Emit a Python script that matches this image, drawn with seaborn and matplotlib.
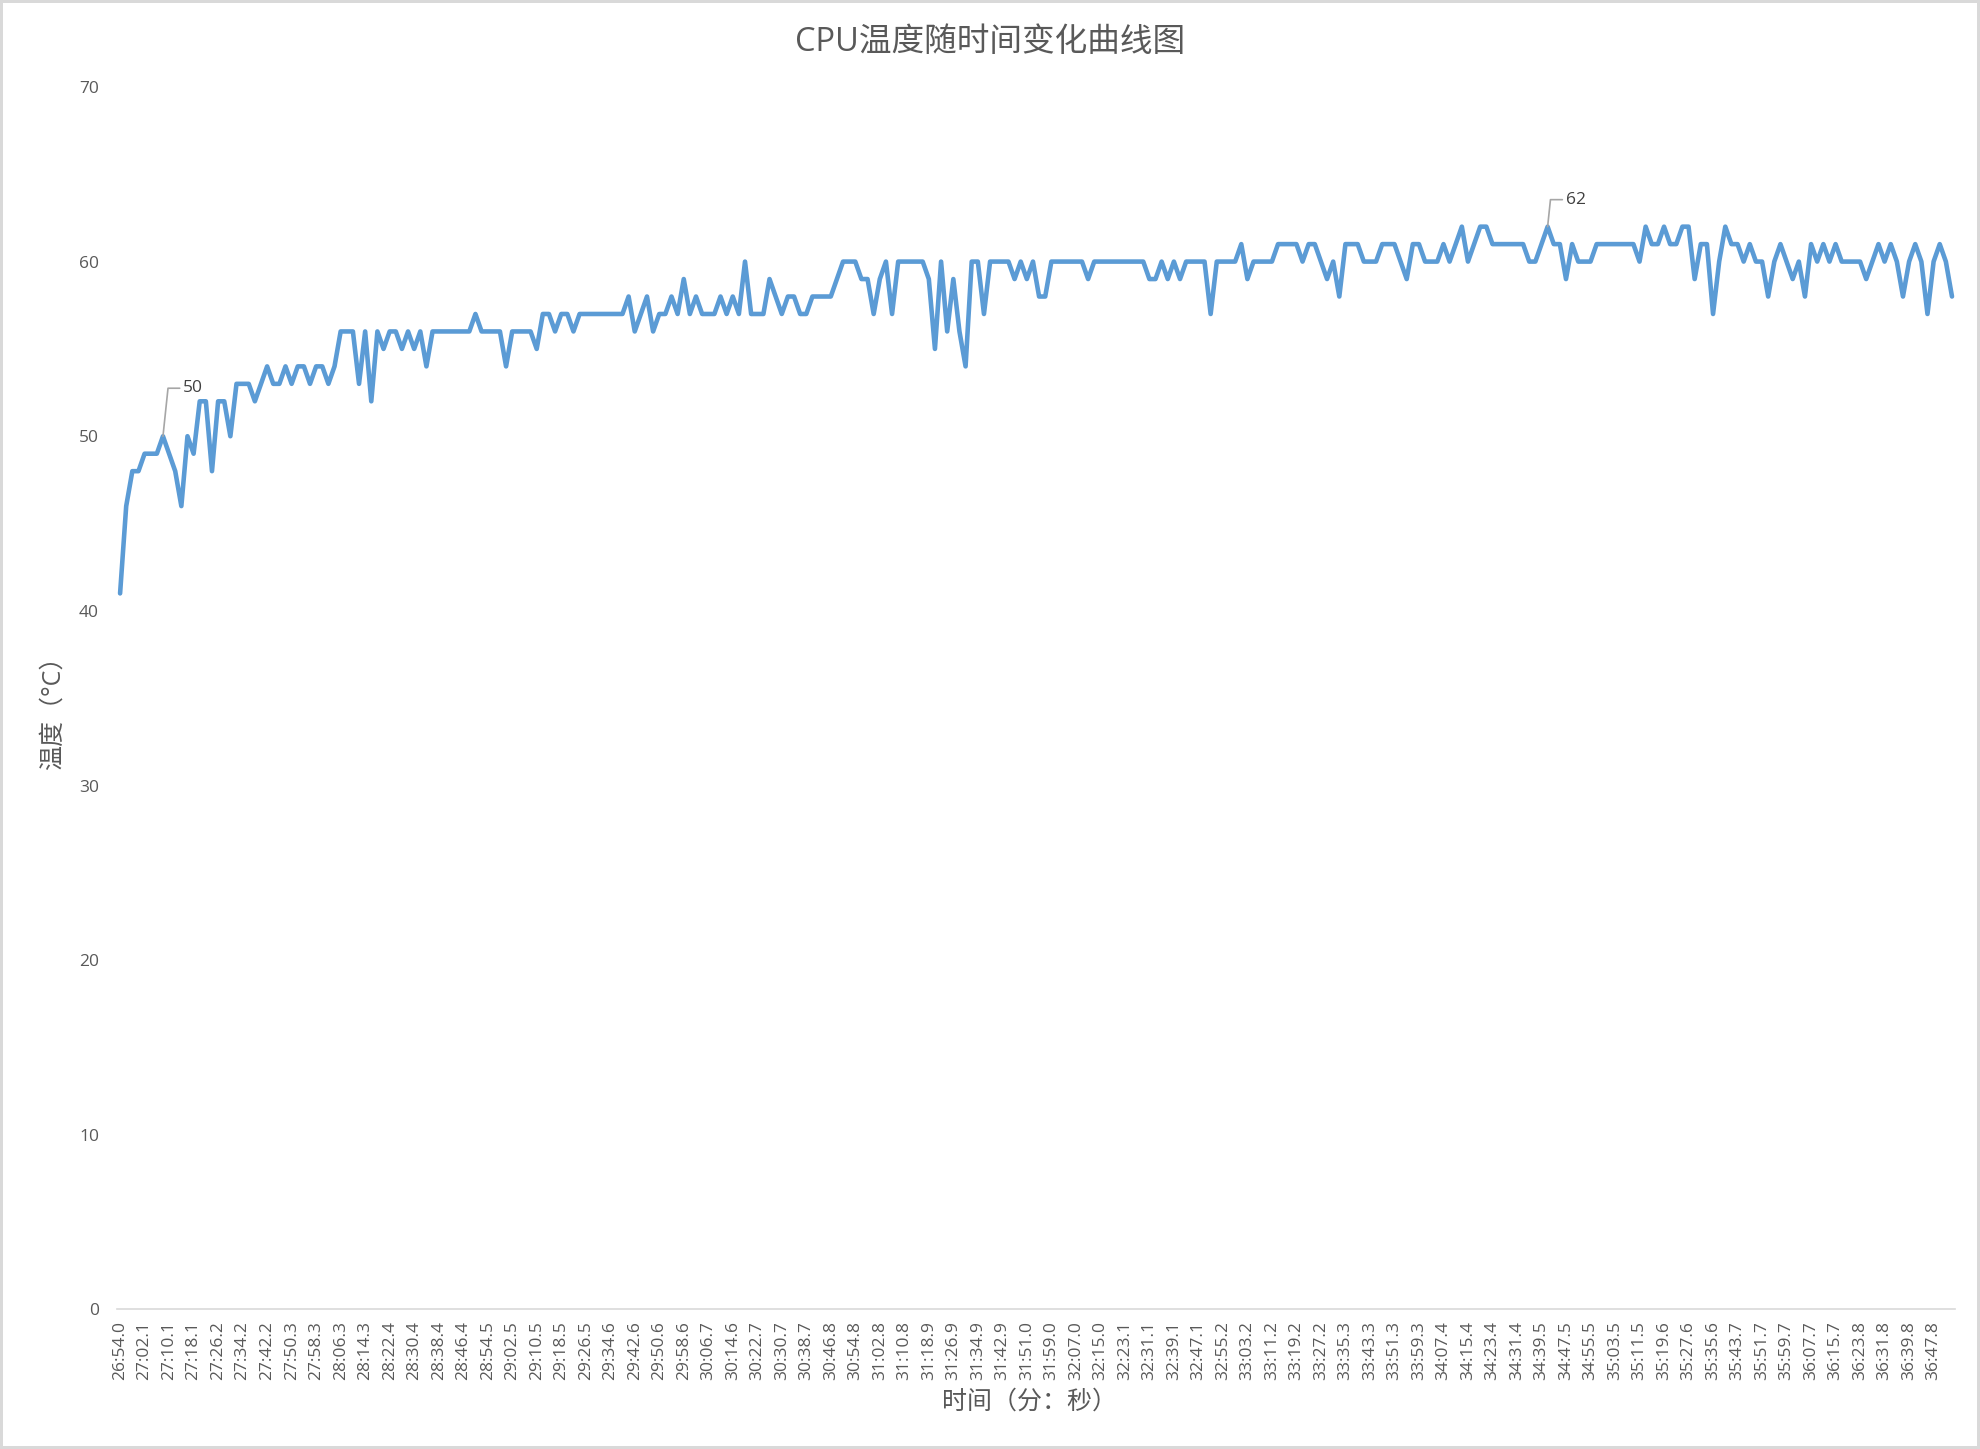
import numpy as np
import pandas as pd
import matplotlib
matplotlib.use("Agg")
import matplotlib.pyplot as plt
import seaborn as sns

# CPU temperature readings, one every ~2 s
temps = [
    41, 46, 48, 48, 49, 49, 49, 50, 49, 48,
    46, 50, 49, 52, 52, 48, 52, 52, 50, 53,
    53, 53, 52, 53, 54, 53, 53, 54, 53, 54,
    54, 53, 54, 54, 53, 54, 56, 56, 56, 53,
    56, 52, 56, 55, 56, 56, 55, 56, 55, 56,
    54, 56, 56, 56, 56, 56, 56, 56, 57, 56,
    56, 56, 56, 54, 56, 56, 56, 56, 55, 57,
    57, 56, 57, 57, 56, 57, 57, 57, 57, 57,
    57, 57, 57, 58, 56, 57, 58, 56, 57, 57,
    58, 57, 59, 57, 58, 57, 57, 57, 58, 57,
    58, 57, 60, 57, 57, 57, 59, 58, 57, 58,
    58, 57, 57, 58, 58, 58, 58, 59, 60, 60,
    60, 59, 59, 57, 59, 60, 57, 60, 60, 60,
    60, 60, 59, 55, 60, 56, 59, 56, 54, 60,
    60, 57, 60, 60, 60, 60, 59, 60, 59, 60,
    58, 58, 60, 60, 60, 60, 60, 60, 59, 60,
    60, 60, 60, 60, 60, 60, 60, 60, 59, 59,
    60, 59, 60, 59, 60, 60, 60, 60, 57, 60,
    60, 60, 60, 61, 59, 60, 60, 60, 60, 61,
    61, 61, 61, 60, 61, 61, 60, 59, 60, 58,
    61, 61, 61, 60, 60, 60, 61, 61, 61, 60,
    59, 61, 61, 60, 60, 60, 61, 60, 61, 62,
    60, 61, 62, 62, 61, 61, 61, 61, 61, 61,
    60, 60, 61, 62, 61, 61, 59, 61, 60, 60,
    60, 61, 61, 61, 61, 61, 61, 61, 60, 62,
    61, 61, 62, 61, 61, 62, 62, 59, 61, 61,
    57, 60, 62, 61, 61, 60, 61, 60, 60, 58,
    60, 61, 60, 59, 60, 58, 61, 60, 61, 60,
    61, 60, 60, 60, 60, 59, 60, 61, 60, 61,
    60, 58, 60, 61, 60, 57, 60, 61, 60, 58,
]

# every 4th reading gets a label
tick_labels = [
    "26:54.0", "27:02.1", "27:10.1", "27:18.1", "27:26.2", "27:34.2", "27:42.2",
    "27:50.3", "27:58.3", "28:06.3", "28:14.3", "28:22.4", "28:30.4", "28:38.4",
    "28:46.4", "28:54.5", "29:02.5", "29:10.5", "29:18.5", "29:26.5", "29:34.6",
    "29:42.6", "29:50.6", "29:58.6", "30:06.7", "30:14.6", "30:22.7", "30:30.7",
    "30:38.7", "30:46.8", "30:54.8", "31:02.8", "31:10.8", "31:18.9", "31:26.9",
    "31:34.9", "31:42.9", "31:51.0", "31:59.0", "32:07.0", "32:15.0", "32:23.1",
    "32:31.1", "32:39.1", "32:47.1", "32:55.2", "33:03.2", "33:11.2", "33:19.2",
    "33:27.2", "33:35.3", "33:43.3", "33:51.3", "33:59.3", "34:07.4", "34:15.4",
    "34:23.4", "34:31.4", "34:39.5", "34:47.5", "34:55.5", "35:03.5", "35:11.5",
    "35:19.6", "35:27.6", "35:35.6", "35:43.7", "35:51.7", "35:59.7", "36:07.7",
    "36:15.7", "36:23.8", "36:31.8", "36:39.8", "36:47.8",
]
label_step = 4

# points that carry a data label
marked = [7, 233]
mark_offsets = [(20, 48), (18, 27)]  # pixels

df = pd.DataFrame({"idx": np.arange(len(temps)), "temp": temps})

sns.set_theme(style="white")
plt.rcParams["font.family"] = ["Open Sans", "Noto Sans CJK SC", "DejaVu Sans"]

fig = plt.figure(figsize=(19.8, 14.49), dpi=100)
fig.patch.set_edgecolor("#D9D9D9")
fig.patch.set_linewidth(3)
ax = fig.add_axes([0.0591, 0.0963, 0.9283, 0.8437])

sns.lineplot(data=df, x="idx", y="temp", ax=ax, color="#5B9BD5",
             linewidth=3.3, solid_joinstyle="round", solid_capstyle="round")

ax.set_xlim(-0.5, len(temps) - 0.5)
ax.set_ylim(0, 70)
ax.set_yticks(range(0, 71, 10))
ax.set_xticks(np.arange(0, len(temps), label_step))
ax.set_xticklabels(tick_labels, rotation=90)
ax.set_xlabel("")
ax.set_ylabel("")

for s in ["top", "right", "left"]:
    ax.spines[s].set_visible(False)
ax.spines["bottom"].set_color("#D9D9D9")
ax.spines["bottom"].set_linewidth(1.2)

ax.tick_params(axis="y", length=0, labelsize=12.5, labelcolor="#595959", pad=13)
ax.tick_params(axis="x", length=0, labelsize=12.5, labelcolor="#595959", pad=8.5)

for i, (dx, dy) in zip(marked, mark_offsets):
    ax.annotate(str(temps[i]), xy=(i, temps[i]), xytext=(dx, dy),
                textcoords="offset pixels", ha="left", va="center",
                fontsize=12.5, color="#404040",
                arrowprops=dict(arrowstyle="-", color="#A6A6A6", lw=1.2,
                                connectionstyle="angle,angleA=0,angleB=84,rad=0",
                                shrinkA=0, shrinkB=0))

fig.text(0.5, 0.971, "CPU温度随时间变化曲线图", ha="center", va="center",
         fontsize=23.5, color="#595959")
fig.text(0.52, 0.0324, "时间（分：秒）", ha="center", va="center",
         fontsize=18, color="#595959")
fig.text(0.0268, 0.512, "温度（°C）", ha="center", va="center",
         rotation=90, fontsize=18, color="#595959")

fig.savefig("out.png", dpi=100)
